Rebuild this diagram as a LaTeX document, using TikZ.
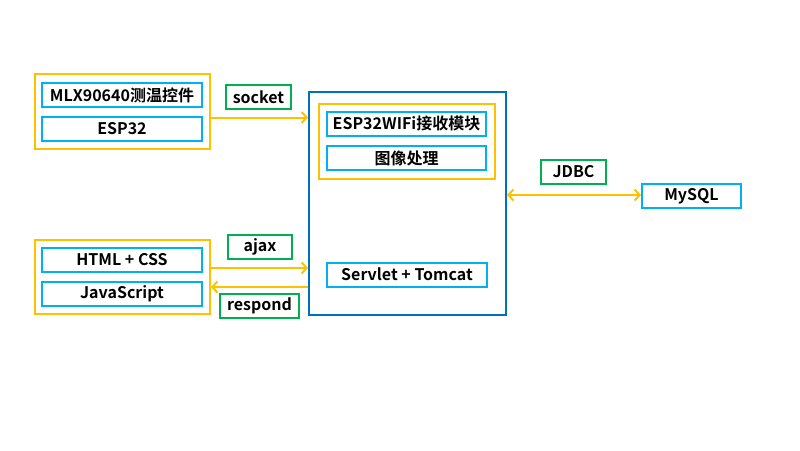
\documentclass[tikz,border=0pt]{standalone}
\usepackage{fontspec}
\setmainfont{Noto Sans CJK SC}[BoldFont={* Bold}]
\usetikzlibrary{arrows.meta,calc}
\definecolor{ora}{RGB}{255,192,0}
\definecolor{lblue}{RGB}{0,176,240}
\definecolor{dblue}{RGB}{0,112,192}
\definecolor{grn}{RGB}{0,176,80}
\begin{document}
\begin{tikzpicture}[x=1pt,y=-1pt,
  lbox/.style={draw=lblue,line width=2pt,minimum width=160pt,minimum height=24pt,inner sep=0pt,font=\fontsize{16}{18}\selectfont\bfseries},
  gbox/.style={draw=grn,line width=2pt,minimum height=24pt,inner sep=0pt,font=\fontsize{16}{18}\selectfont\bfseries},
  obox/.style={draw=ora,line width=2pt,inner sep=0pt},
  bbox/.style={draw=dblue,line width=2pt,inner sep=0pt},
  arr/.style={draw=ora,line width=2pt,-{Straight Barb[length=5pt,width=11pt,line width=2pt]}},
  darr/.style={draw=ora,line width=2pt,{Straight Barb[length=5pt,width=11pt,line width=2pt]}-{Straight Barb[length=5pt,width=11pt,line width=2pt]}}]
\useasboundingbox (0,0) rectangle (800,450);
% left top group
\node[obox,minimum width=175pt,minimum height=75pt] (o1) at (122.5,111.5) {};
\node[lbox] (mlx) at (122,95) {MLX90640测温控件};
\node[lbox] (esp) at (122,128.5) {ESP32};
% left bottom group
\node[obox,minimum width=175pt,minimum height=74pt] (o2) at (122.5,277) {};
\node[lbox] (html) at (122,260) {HTML + CSS};
\node[lbox] (js) at (122,294) {JavaScript};
% big server box
\node[bbox,minimum width=197pt,minimum height=223pt] (big) at (407.5,203.5) {};
\node[obox,minimum width=176pt,minimum height=75pt] (o3) at (407,141.5) {};
\node[lbox,minimum width=159pt] (wifi) at (406.5,123.5) {ESP32WIFi接收模块};
\node[lbox,minimum width=159pt] (img) at (406.5,158) {图像处理};
\node[lbox,minimum width=160pt] (srv) at (407,274.5) {Servlet + Tomcat};
% MySQL
\node[lbox,minimum width=99pt] (sql) at (691.5,196) {MySQL};
% labels
\node[gbox,minimum width=65pt] (sock) at (258.5,97) {socket};
\node[gbox,minimum width=64pt] (ajax) at (260,247) {ajax};
\node[gbox,minimum width=79pt] (resp) at (259.5,306) {respond};
\node[gbox,minimum width=65pt] (jdbc) at (573.5,172) {JDBC};
% connectors
\draw[arr] ([yshift=-6pt]o1.east) -- ([yshift=-6pt]o1.east -| big.west);
\draw[arr] ([yshift=9pt]o2.east) -- ([yshift=9pt]o2.east -| big.west);
\draw[arr] ([yshift=-10pt]o2.east -| big.west) -- ([yshift=-10pt]o2.east);
\draw[darr] ([yshift=1pt]sql.west -| big.east) -- ([yshift=1pt]sql.west);
\end{tikzpicture}
\end{document}
